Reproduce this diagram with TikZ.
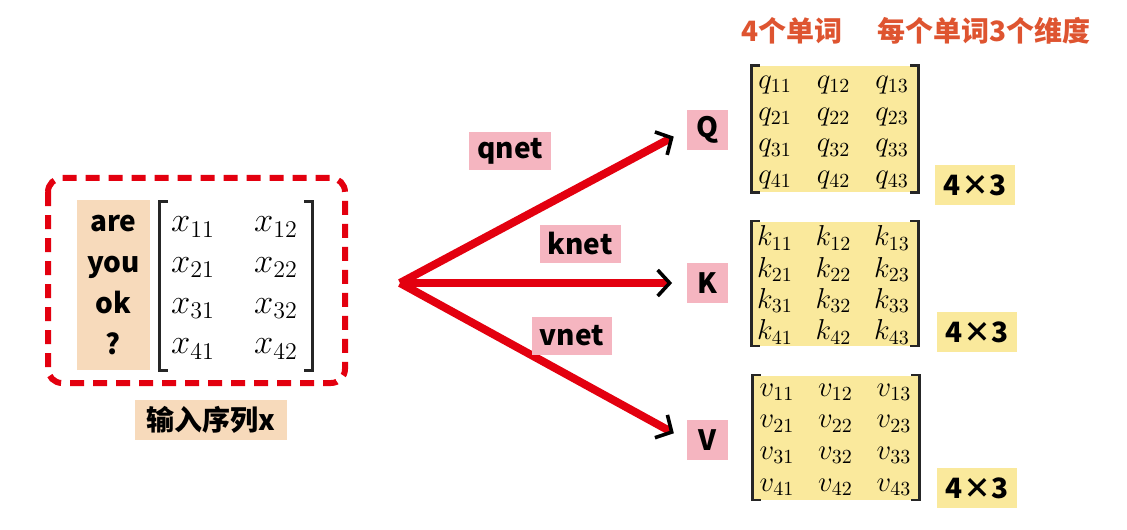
\documentclass[tikz,border=0pt]{standalone}
\usepackage{fontspec}
\usetikzlibrary{arrows.meta}
\newfontfamily\cjk{Noto Sans CJK SC}
\definecolor{arrowred}{HTML}{E3000F}
\definecolor{netpink}{HTML}{F5B5C0}
\definecolor{wordbeige}{HTML}{F7DABB}
\definecolor{matyellow}{HTML}{FAE99C}
\definecolor{headorange}{HTML}{DE5430}

\begin{document}
\begin{tikzpicture}[
	x=0.5pt, y=-0.5pt,
	every node/.style={font=\cjk\bfseries\fontsize{14}{20.5}\selectfont, inner sep=0pt},
	netbox/.style={fill=netpink, minimum height=19pt, inner xsep=4pt},
	qkvbox/.style={fill=netpink, minimum width=20.5pt, minimum height=20pt},
	sizebox/.style={fill=matyellow, minimum width=40pt, minimum height=20pt},
	matbox/.style={fill=matyellow, minimum width=83pt},
	bracket/.style={line width=1.2pt, black!85},
	xent/.style={font=\fontsize{17.28}{20}\selectfont},
	qent/.style={font=\fontsize{14.4}{16}\selectfont},
	redarrow/.style={line width=4pt, arrowred, shorten >=7pt,
		-{Straight Barb[black, line width=1.8pt, length=6pt, width=13pt]}},
	dashbox/.style={line width=3pt, arrowred, dash pattern=on 7pt off 4.5pt, rounded corners=7pt},
]
\useasboundingbox (0,0) rectangle (1127,529);

\draw[dashbox] (48,178) rectangle (345,383);
\node[fill=wordbeige, minimum width=36.5pt, minimum height=85pt, align=center, text depth=-3pt] (words) at (113.5,285) {are\\you\\ok\\?};
\node[minimum width=76pt, minimum height=84pt] (xbox) at (236,286) {};
\foreach \r in {1,...,4}
	\foreach \c in {1,2}
		\node[xent] (x\r\c) at ({193+83*(\c-1)},{227+40.7*(\r-1)}) {$x_{\r\c}$};
\node[fill=wordbeige, minimum width=76pt, minimum height=20pt] (inlab) at (211,420) {输入序列x};

\coordinate (fork) at (400,283);
\node[qkvbox] (Q) at (707,130) {Q};
\node[qkvbox] (K) at (707,283) {K};
\node[qkvbox] (V) at (707,440) {V};
\draw[redarrow] (fork) -- (Q.west);
\draw[redarrow] (fork) -- (K.west);
\draw[redarrow] (fork) -- (V.west);
\node[netbox] (qnet) at (510,151) {qnet};
\node[netbox] (knet) at (580,244) {knet};
\node[netbox] (vnet) at (572,336) {vnet};

\node[text=headorange] (words4) at (792,31) {4个单词};
\node[text=headorange] (dims3) at (984,31) {每个单词3个维度};

\node[matbox, minimum height=63pt] (qbox) at (835,129) {};
\node[matbox, minimum height=62pt] (kbox) at (835,283.5) {};
\node[matbox, minimum height=62pt] (vbox) at (836,437.5) {};
\foreach \r in {1,...,4}
	\foreach \c in {1,2,3} {
		\node[qent] (q\r\c) at ({775+58.5*(\c-1)},{85+31.7*(\r-1)}) {$q_{\r\c}$};
		\node[qent] (k\r\c) at ({775+58.5*(\c-1)},{238+31.3*(\r-1)}) {$k_{\r\c}$};
		\node[qent] (v\r\c) at ({777+58.5*(\c-1)},{392+31.7*(\r-1)}) {$v_{\r\c}$};
	}
\foreach \b in {xbox,qbox,kbox,vbox} {
	\draw[bracket] ([xshift=4pt]\b.north west) -| (\b.south west) -- ++(4pt,0);
	\draw[bracket] ([xshift=-4pt]\b.north east) -| (\b.south east) -- ++(-4pt,0);
}
\node[sizebox] (qsize) at (975,185) {4×3};
\node[sizebox] (ksize) at (977,332) {4×3};
\node[sizebox] (vsize) at (977,488) {4×3};
\end{tikzpicture}
\end{document}
